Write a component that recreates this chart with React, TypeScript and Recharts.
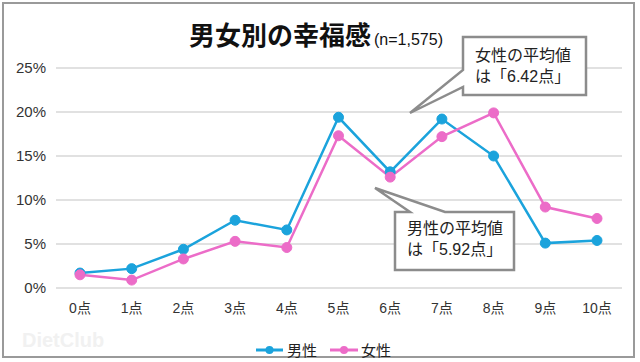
import { CartesianGrid, Line, LineChart, XAxis, YAxis } from "recharts";

const categories = ["0点", "1点", "2点", "3点", "4点", "5点", "6点", "7点", "8点", "9点", "10点"];
const maleRates = [1.7, 2.2, 4.4, 7.7, 6.6, 19.4, 13.2, 19.2, 15.0, 5.1, 5.4];
const femaleRates = [1.5, 0.9, 3.3, 5.3, 4.6, 17.3, 12.6, 17.2, 19.9, 9.2, 7.9];
const yTicks = [0, 5, 10, 15, 20, 25];

const MALE = "#1ba3dc";
const FEMALE = "#ec6cc8";
const FONT = "'Liberation Sans', 'Noto Sans CJK JP', sans-serif";

const data = categories.map((label, i) => ({
  label,
  male: maleRates[i],
  female: femaleRates[i],
}));

function Callout({ path, x, y, lines }: { path: string; x: number; y: number; lines: string[] }) {
  return (
    <g>
      <path d={path} fill="#fff" stroke="#8c8c8c" strokeWidth={2.5} strokeLinejoin="miter" />
      {lines.map((t, i) => (
        <text key={i} x={x} y={y + i * 21} fontSize={16} fill="#222" fontFamily={FONT}>
          {t}
        </text>
      ))}
    </g>
  );
}

export default function App() {
  return (
    <div style={{ position: "absolute", left: 0, top: 0, width: 640, height: 362, background: "#fff" }}>
      <LineChart
        width={640}
        height={362}
        data={data}
        margin={{ top: 68, right: 18, bottom: 44, left: 0 }}
        style={{ fontFamily: FONT }}
      >
        <CartesianGrid vertical={false} stroke="#c4c4c4" strokeWidth={1.2} />
        <XAxis
          dataKey="label"
          height={30}
          axisLine={false}
          tickLine={false}
          tickSize={0}
          tickMargin={15}
          padding={{ left: 24, right: 25 }}
          tick={{ fill: "#333", fontSize: 14 }}
          interval={0}
        />
        <YAxis
          width={56}
          domain={[0, 25]}
          ticks={yTicks}
          axisLine={false}
          tickLine={false}
          tickSize={0}
          tickMargin={10}
          tickFormatter={(v) => `${v}%`}
          tick={{ fill: "#333", fontSize: 15 }}
        />
        <Line
          dataKey="male"
          stroke={MALE}
          strokeWidth={2.5}
          dot={{ r: 5, fill: MALE, stroke: MALE, strokeWidth: 1 }}
          isAnimationActive={false}
        />
        <Line
          dataKey="female"
          stroke={FEMALE}
          strokeWidth={2.5}
          dot={{ r: 5, fill: FEMALE, stroke: FEMALE, strokeWidth: 1 }}
          isAnimationActive={false}
        />
      </LineChart>

      <svg
        width={640}
        height={362}
        style={{ position: "absolute", left: 0, top: 0, pointerEvents: "none" }}
      >
        <rect x={3} y={3} width={631} height={354} fill="none" stroke="#9a9a9a" strokeWidth={2} />
        <text x={22} y={347} fontSize={20} fontWeight="bold" fill="#f1f1f1" fontFamily={FONT}>
          DietClub
        </text>

        <text x={189} y={45} fontFamily={FONT} fill="#111">
          <tspan fontSize={26} fontWeight="bold">男女別の幸福感</tspan>
          <tspan dx={3} fontSize={16}>(n=1,575)</tspan>
        </text>

        <Callout
          path="M463,37 H586 V95 H463 V87 L410,113 L463,70 Z"
          x={475}
          y={61}
          lines={["女性の平均値", "は「6.42点」"]}
        />
        <Callout
          path="M395,212 H410 L375,188 L445,212 H514 V270 H395 Z"
          x={407}
          y={234}
          lines={["男性の平均値", "は「5.92点」"]}
        />

        <g fontFamily={FONT} fontSize={15} fill="#222">
          <line x1={256} y1={350} x2={283} y2={350} stroke={MALE} strokeWidth={3} />
          <circle cx={269.5} cy={350} r={4} fill={MALE} />
          <text x={287} y={355.5}>男性</text>
          <line x1={330} y1={350} x2={358} y2={350} stroke={FEMALE} strokeWidth={3} />
          <circle cx={344} cy={350} r={4} fill={FEMALE} />
          <text x={361} y={355.5}>女性</text>
        </g>
      </svg>
    </div>
  );
}
